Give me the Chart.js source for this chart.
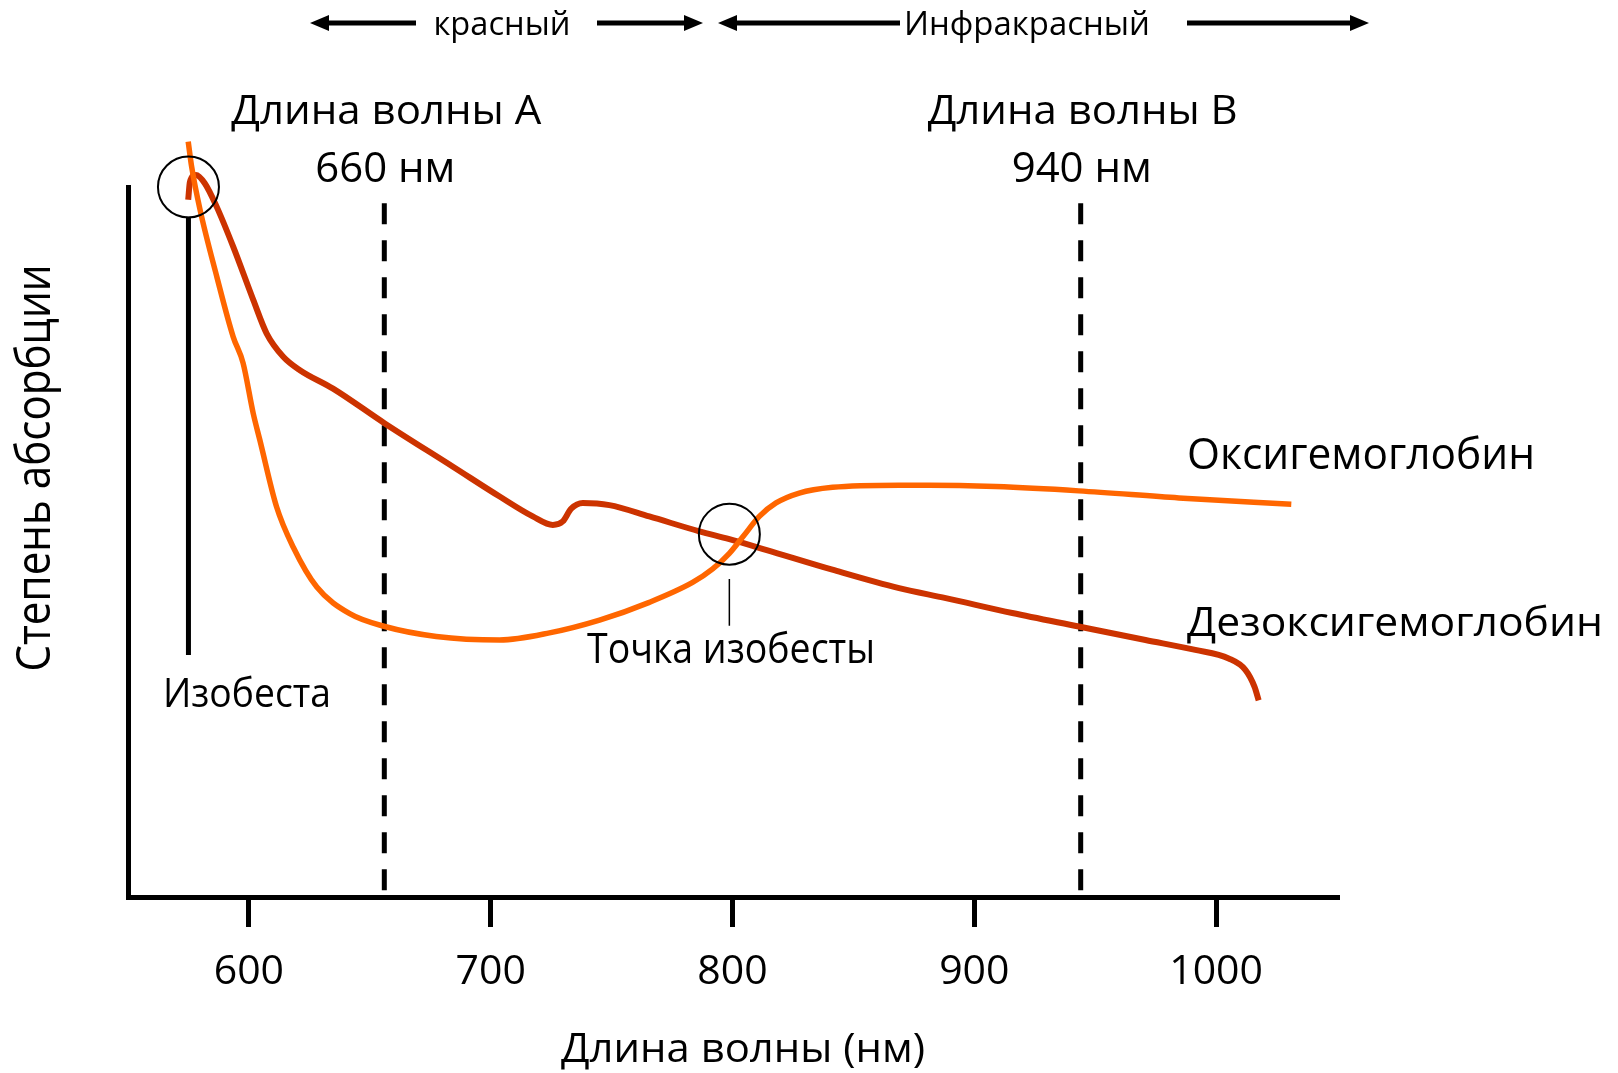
<!DOCTYPE html>
<html lang="ru">
<head>
<meta charset="utf-8">
<title>Степень абсорбции</title>
<script src="https://cdn.jsdelivr.net/npm/chart.js@4.4.1/dist/chart.umd.min.js"></script>
<style>
  html, body { margin: 0; padding: 0; background: #fff; }
  #wrap { width: 1618px; height: 1073px; }
</style>
</head>
<body>
<div id="wrap"><canvas id="chart" width="1618" height="1073"></canvas></div>
<script>
// x axis (wavelength, nm)
const xMin = 550;
const xMax = 1050;
const xTicks = [600, 700, 800, 900, 1000];

// Deoxyhemoglobin curve (arbitrary absorption units 0..100)
const deoxyNm  = [574.9, 575.6, 578.1, 581.8, 586.7, 593.5, 601.8, 607.3, 614.2, 621.1, 634.8, 656.2, 684.4, 703.7, 717.4, 725.7, 729.8, 733.3, 738.1, 749.1, 765.6, 786.3, 798.7, 813.8, 841.3, 868.9, 888.2, 915.7, 943.2, 970.8, 991.4, 1005.2, 1012.1, 1015.9, 1017.6];
const deoxyAbs = [98.2, 100.7, 101.7, 100.5, 97.2, 91.6, 84.1, 79.4, 76.1, 74.2, 71.6, 66.7, 60.6, 56.4, 53.6, 52.4, 52.9, 54.7, 55.5, 55.2, 53.6, 51.5, 50.4, 48.9, 46.1, 43.5, 42.1, 40.0, 38.1, 36.2, 34.8, 33.6, 32.0, 29.6, 27.7];

// Oxyhemoglobin curve
const oxyNm  = [574.9, 576.3, 579.8, 586.7, 593.5, 597.6, 601.8, 604.5, 611.4, 618.3, 628.0, 641.7, 656.2, 677.5, 703.7, 724.3, 745.0, 765.6, 783.5, 791.8, 798.7, 804.2, 811.1, 818.0, 827.6, 841.4, 868.9, 881.3, 908.8, 943.2, 984.6, 1031.1];
const oxyAbs = [106.4, 102.9, 96.8, 87.4, 78.9, 75.2, 68.1, 64.4, 55.0, 49.3, 43.7, 39.9, 38.1, 36.7, 36.2, 37.2, 39.0, 41.5, 44.3, 46.2, 48.4, 50.7, 53.6, 55.5, 56.9, 57.7, 58.0, 58.0, 57.8, 57.2, 56.2, 55.3];

// measurement wavelengths (where the dashed lines sit) and their labels
const markerNm = [656, 944];
const markerTop = 97.7;
const markerTitles = ['Длина волны А', 'Длина волны В'];
const markerLabels = ['660 нм', '940 нм'];

// isosbestic marks
const isoNm = [575, 798.7];
const isoAbs = [100, 51.1];
const isoLineNm = 575;
const isoLineAbs = [95.8, 34.1];
const isoTickAbs = [44.8, 38.2];

const seriesNames = ['Оксигемоглобин', 'Дезоксигемоглобин'];

const RED = '#cc3300';
const ORANGE = '#ff6600';
const FONT = '"Open Sans", "Noto Sans", sans-serif';

function zip(xs, ys) {
    return xs.map((x, i) => ({ x: x, y: ys[i] }));
}

// draw text squeezed/stretched to a given width (source font is narrower than Open Sans)
function fitText(ctx, text, x, y, size, width, align) {
    ctx.save();
    ctx.font = size + 'px ' + FONT;
    const w = ctx.measureText(text).width;
    ctx.translate(x, y);
    ctx.scale(width / w, 1);
    ctx.textAlign = align;
    ctx.textBaseline = 'alphabetic';
    ctx.fillStyle = '#000';
    ctx.fillText(text, 0, 0);
    ctx.restore();
}

function arrow(ctx, x1, x2, y) {
    // line from x1 to x2, head at x2
    const dir = Math.sign(x2 - x1);
    ctx.save();
    ctx.strokeStyle = '#000';
    ctx.fillStyle = '#000';
    ctx.lineWidth = 5;
    ctx.beginPath();
    ctx.moveTo(x1, y);
    ctx.lineTo(x2 - dir * 14, y);
    ctx.stroke();
    ctx.beginPath();
    ctx.moveTo(x2, y);
    ctx.lineTo(x2 - dir * 19, y - 8);
    ctx.lineTo(x2 - dir * 19, y + 8);
    ctx.closePath();
    ctx.fill();
    ctx.restore();
}

const annotations = {
    id: 'annotations',
    afterDraw(chart) {
        const ctx = chart.ctx;
        const xs = chart.scales.x;

        // spectral band arrows
        arrow(ctx, 416, 310, 23);
        arrow(ctx, 597, 703, 23);
        arrow(ctx, 900, 718, 23);
        arrow(ctx, 1187, 1369, 23);
        fitText(ctx, 'красный', 502, 35, 33, 137, 'center');
        fitText(ctx, 'Инфракрасный', 1027, 35, 33, 246, 'center');

        // measurement wavelength labels
        markerNm.forEach((nm, i) => {
            const px = xs.getPixelForValue(nm);
            fitText(ctx, markerTitles[i], px + 2, 124, 41, 310, 'center');
            fitText(ctx, markerLabels[i], px + 1, 182, 42, 140, 'center');
        });

        // series names
        fitText(ctx, seriesNames[0], 1187, 469, 43, 348, 'left');
        fitText(ctx, seriesNames[1], 1187, 636, 41, 416, 'left');

        fitText(ctx, 'Изобеста', 163, 707, 41, 168, 'left');
        fitText(ctx, 'Точка изобесты', 587, 663, 42, 288, 'left');

        // axis titles
        fitText(ctx, 'Длина волны (нм)', 743, 1062, 41, 364, 'center');
        ctx.save();
        ctx.translate(50, 468);
        ctx.rotate(-Math.PI / 2);
        fitText(ctx, 'Степень абсорбции', 0, 0, 47, 407, 'center');
        ctx.restore();
    }
};

const ctx = document.getElementById('chart').getContext('2d');
new Chart(ctx, {
    type: 'line',
    data: {
        datasets: [
            {
                // isosbestic circles
                data: zip(isoNm, isoAbs),
                showLine: false,
                pointRadius: 30.5,
                pointBorderWidth: 2,
                pointBorderColor: '#000',
                pointBackgroundColor: 'rgba(0,0,0,0)',
                clip: false
            },
            {
                label: seriesNames[0],
                data: zip(oxyNm, oxyAbs),
                borderColor: ORANGE,
                borderWidth: 5.5,
                pointRadius: 0,
                cubicInterpolationMode: 'monotone',
                clip: false
            },
            {
                label: seriesNames[1],
                data: zip(deoxyNm, deoxyAbs),
                borderColor: RED,
                borderWidth: 6,
                pointRadius: 0,
                cubicInterpolationMode: 'monotone',
                clip: false
            },
            {
                data: [{ x: markerNm[0], y: markerTop }, { x: markerNm[0], y: 0 }],
                borderColor: '#000',
                borderWidth: 5,
                borderDash: [21, 16],
                pointRadius: 0
            },
            {
                data: [{ x: markerNm[1], y: markerTop }, { x: markerNm[1], y: 0 }],
                borderColor: '#000',
                borderWidth: 5,
                borderDash: [21, 16],
                pointRadius: 0
            },
            {
                data: [{ x: isoLineNm, y: isoLineAbs[0] }, { x: isoLineNm, y: isoLineAbs[1] }],
                borderColor: '#000',
                borderWidth: 5,
                pointRadius: 0
            },
            {
                data: [{ x: isoNm[1], y: isoTickAbs[0] }, { x: isoNm[1], y: isoTickAbs[1] }],
                borderColor: '#000',
                borderWidth: 1.5,
                pointRadius: 0
            }
        ]
    },
    options: {
        responsive: false,
        animation: false,
        devicePixelRatio: 1,
        layout: { padding: { left: 0, top: 187, right: 281, bottom: 0 } },
        plugins: {
            legend: { display: false },
            tooltip: { enabled: false },
            title: { display: false }
        },
        scales: {
            x: {
                type: 'linear',
                min: xMin,
                max: xMax,
                afterBuildTicks: (scale) => { scale.ticks = xTicks.map(v => ({ value: v })); },
                afterFit: (scale) => { scale.height = 176; },
                grid: {
                    display: true,
                    drawOnChartArea: false,
                    drawTicks: true,
                    tickLength: 30,
                    lineWidth: 5,
                    color: '#000'
                },
                border: { display: true, width: 5, color: '#000' },
                ticks: {
                    padding: 21,
                    color: '#000',
                    font: { family: FONT, size: 41 },
                    maxRotation: 0,
                    callback: (v) => String(v)
                }
            },
            y: {
                type: 'linear',
                min: 0,
                max: 100,
                afterFit: (scale) => { scale.width = 128; },
                grid: { display: false },
                border: { display: true, width: 5, color: '#000' },
                ticks: { display: false }
            }
        }
    },
    plugins: [annotations]
});
</script>
</body>
</html>
